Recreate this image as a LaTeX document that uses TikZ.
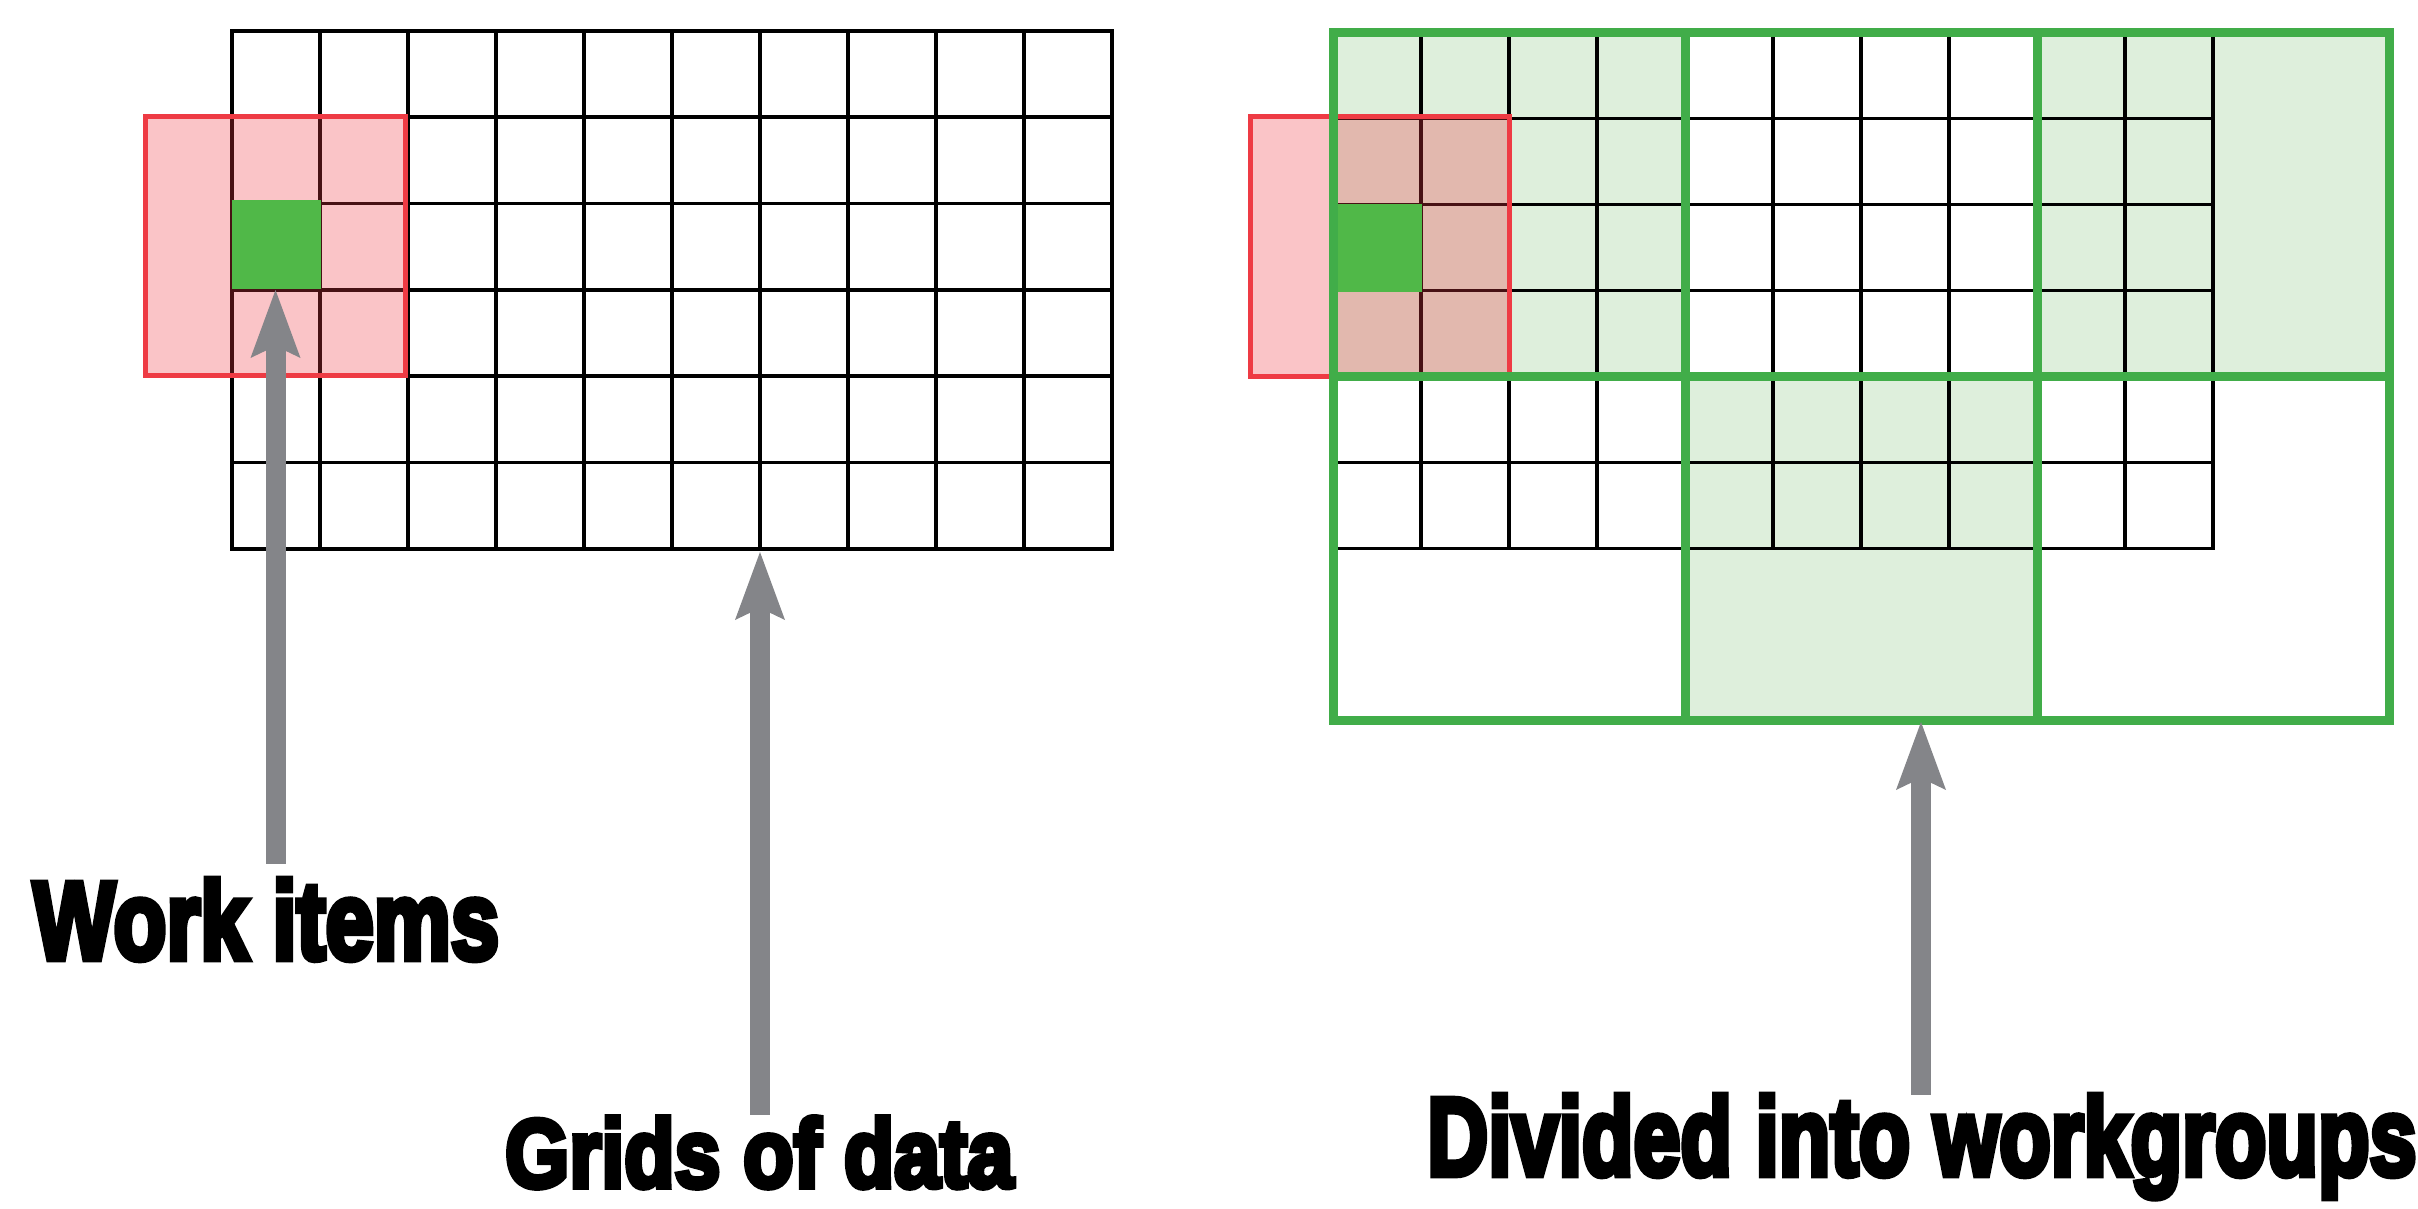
\documentclass[tikz,border=0pt]{standalone}
\usepackage{fontspec}
\usepackage{graphicx}
\usetikzlibrary{arrows.meta}
\newfontfamily\heavyfont{Liberation Sans}[FakeBold=6, BoldFeatures={FakeBold=6}]
\definecolor{cellgreen}{HTML}{50B848}
\definecolor{wgborder}{HTML}{41AD49}
\definecolor{wgfill}{HTML}{DEEFDC}
\definecolor{itemred}{HTML}{EE3B44}
\definecolor{pointer}{HTML}{848589}
\begin{document}
\begin{tikzpicture}[x=1pt,y=-1pt,
  gridline/.style={line width=3.6pt, black, line cap=rect},
  groupline/.style={line width=9pt, wgborder, line cap=rect, line join=miter},
  groupfill/.style={fill=wgfill},
  itembox/.style={fill=itemred, fill opacity=0.3, draw=itemred, draw opacity=1, line width=5pt},
  itemcell/.style={fill=cellgreen},
  pointerarrow/.style={draw=pointer, line width=20pt,
    -{Stealth[length=68pt,width=50pt,inset=12pt,line width=0pt]}},
  tagtext/.style={inner sep=0pt, anchor=base west}]
\useasboundingbox (0,0) rectangle (2418,1209);

% ---- left: plain 10 x 6 grid of data ----
\foreach \i in {0,...,10}
  \draw[gridline] (232+88*\i,31) -- (232+88*\i,548.8);
\foreach \j in {0,...,6}
  \draw[gridline] (232,31+86.3*\j) -- (1112,31+86.3*\j);
% neighbourhood of one work item
\draw[itembox] (145,116.5) rectangle (405,375.5);
\fill[itemcell] (231.5,200.5) rectangle (321,289);

% ---- right: the same grid split into 4 x 4 workgroups ----
\fill[groupfill] (1333,32.5) rectangle (1685,376.5);
\fill[groupfill] (2037,32.5) rectangle (2389,376.5);
\fill[groupfill] (1685,376.5) rectangle (2037,720.5);
\foreach \i in {0,...,10}
  \draw[gridline] (1333+88*\i,32.5) -- (1333+88*\i,548.5);
\foreach \j in {0,...,6}
  \draw[gridline] (1333,32.5+86*\j) -- (2213,32.5+86*\j);
\draw[itembox] (1250,116.5) rectangle (1509,376);
\fill[itemcell] (1333,204.5) rectangle (1422,291.5);
\draw[groupline] (1333,32.5) rectangle (2389,720.5);
\draw[groupline] (1685,32.5) -- (1685,720.5);
\draw[groupline] (2037,32.5) -- (2037,720.5);
\draw[groupline] (1333,376.5) -- (2389,376.5);

% ---- captions ----
\node[tagtext] (work) at (33,959)
  {\resizebox{466pt}{80pt}{\heavyfont\bfseries Work items}};
\node[tagtext] (grids) at (505,1187)
  {\resizebox{508pt}{70pt}{\heavyfont\bfseries Grids of data}};
\node[tagtext] (divided) at (1427,1175)
  {\resizebox{989pt}{80pt}{\heavyfont\bfseries Divided into workgroups}};

% ---- pointers ----
\coordinate (item-tip) at (275.5,290);
\coordinate (grid-tip) at (760,552);
\coordinate (group-tip) at (1921,722);
\draw[pointerarrow, shorten <=2pt] (work.north -| item-tip) ++(0,-13) -- (item-tip);
\draw[pointerarrow, shorten <=2pt] (grids.north -| grid-tip) -- (grid-tip);
\draw[pointerarrow] (divided.north -| group-tip) -- (group-tip);
\end{tikzpicture}
\end{document}
